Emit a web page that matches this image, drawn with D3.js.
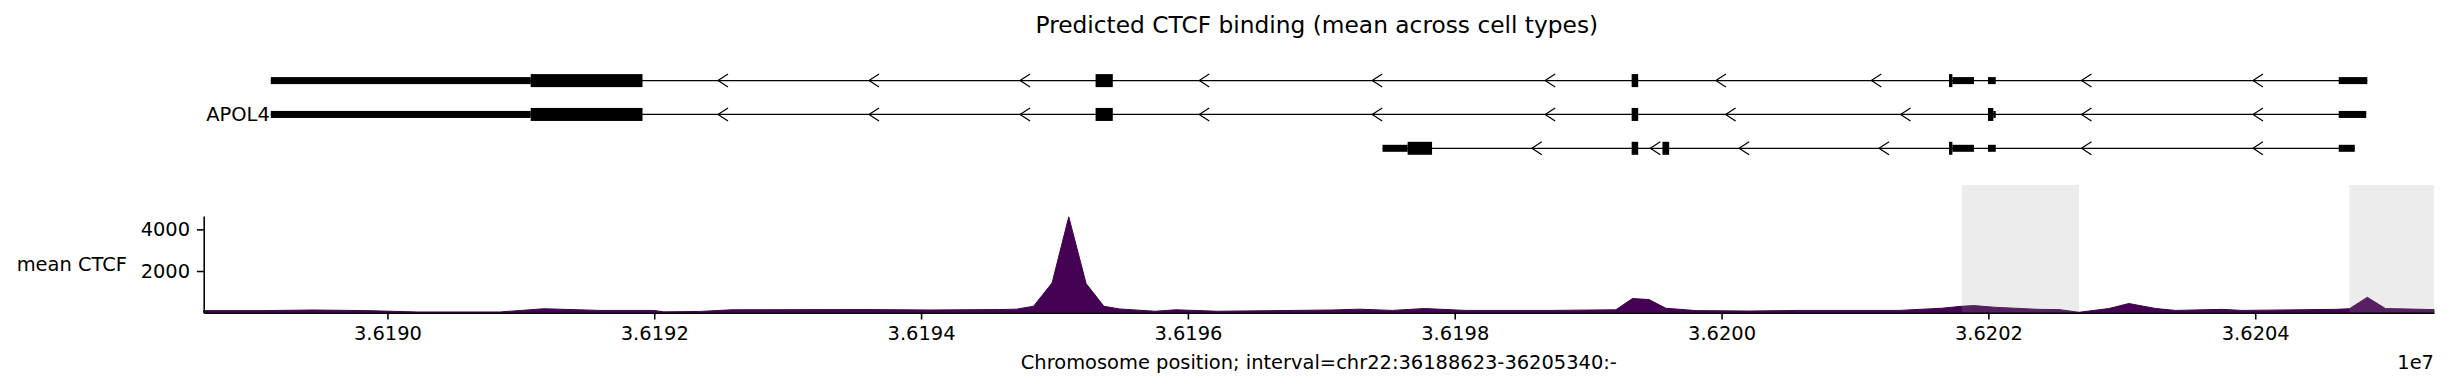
<!DOCTYPE html>
<html><head><meta charset="utf-8">
<script src="https://cdn.jsdelivr.net/npm/d3@7"></script>
<style>
body{margin:0;background:#fff}
svg{display:block}
text{font-family:"DejaVu Sans",sans-serif;fill:#000}
</style>
</head><body>
<svg id="chart" width="2450" height="386"></svg>
<script>
// ---------------- data ----------------
const regionStart = 36188623;
const regionEnd = 36205340;
const titleText = "Predicted CTCF binding (mean across cell types)";
const xLabelText = "Chromosome position; interval=chr22:36188623-36205340:-";
const yLabelText = "mean CTCF";
const geneName = "APOL4";
const offsetText = "1e7";

const xTickValues = [36190000, 36192000, 36194000, 36196000, 36198000, 36200000, 36202000, 36204000];
const xTickLabels = ["3.6190", "3.6192", "3.6194", "3.6196", "3.6198", "3.6200", "3.6202", "3.6204"];
const yTickValues = [2000, 4000];
const yTickLabels = ["2000", "4000"];
const yMax = 4640;

// mean CTCF signal (position, value)
const signalPos = [36188623, 36189060, 36189449, 36189839, 36190228, 36190843, 36191173, 36191593, 36191997, 36192072,
  36192341, 36192581, 36193600, 36194070, 36194587, 36194715, 36194843, 36194982, 36195107, 36195237,
  36195370, 36195487, 36195754, 36195911, 36196221, 36197083, 36197285, 36197532, 36197772, 36198086,
  36198708, 36199208, 36199332, 36199457, 36199582, 36199809, 36200206, 36200581, 36201330, 36201652,
  36201802, 36201892, 36202050, 36202379, 36202529, 36202679, 36202903, 36203053, 36203255, 36203405,
  36203750, 36203900, 36204604, 36204706, 36204840, 36204976, 36205340];
const signalVal = [100, 100, 130, 100, 35, 35, 190, 110, 110, 40,
  60, 140, 150, 130, 150, 170, 310, 1430, 4600, 1400,
  310, 180, 70, 140, 70, 130, 170, 110, 200, 110,
  110, 140, 680, 630, 215, 100, 80, 110, 110, 215,
  310, 340, 260, 160, 150, 20, 200, 440, 200, 110,
  160, 110, 160, 190, 740, 200, 150];

// shaded regions
const shadeStarts = [36201802, 36204706];
const shadeEnds = [36202679, 36205340];

// transcripts of APOL4 (rows), exons as [start, end, kind]
const transcriptIds = ["tx1", "tx2", "tx3"];
const transcriptSpans = [[36189126, 36204840], [36189126, 36204832], [36197459, 36204746]];
const tx1Exons = [[36189126, 36191074, "utr"], [36191074, 36191912, "cds"], [36195308, 36195437, "cds"],
  [36199326, 36199375, "cds"], [36201705, 36201730, "cds"], [36201730, 36201892, "utr"],
  [36201997, 36202055, "utr"], [36204626, 36204840, "utr"]];
const tx2Exons = [[36189126, 36191074, "utr"], [36191074, 36191912, "cds"], [36195308, 36195437, "cds"],
  [36199326, 36199375, "cds"], [36201997, 36202037, "cds"], [36202037, 36202055, "utr"],
  [36204626, 36204832, "utr"]];
const tx3Exons = [[36197459, 36197647, "utr"], [36197647, 36197830, "cds"], [36199326, 36199375, "cds"],
  [36199557, 36199607, "cds"], [36201705, 36201730, "cds"], [36201730, 36201892, "utr"],
  [36201997, 36202055, "utr"], [36204626, 36204746, "utr"]];
const exonSets = [tx1Exons, tx2Exons, tx3Exons];
const labelRow = 1;

// ---------------- drawing ----------------
const svg = d3.select("#chart");
const plotLeft = 203.7, plotRight = 2434;
const axisTop = 216, axisBottom = 312.7;

const x = d3.scaleLinear().domain([regionStart, regionEnd]).range([plotLeft, plotRight]);
const y = d3.scaleLinear().domain([0, yMax]).range([axisBottom, axisTop]);
const row = d3.scalePoint().domain(transcriptIds).range([80.6, 148.3]);

// title
svg.append("text").attr("x", (plotLeft + plotRight) / 2 - 2).attr("y", 32.5)
  .attr("text-anchor", "middle").style("font-size", "23.3px").text(titleText);

// gene track
const gTrack = svg.append("g");
const cdsH = 13, utrH = 7;
transcriptIds.forEach((id, i) => {
  const cy = row(id);
  const span = transcriptSpans[i];
  gTrack.append("line").attr("x1", x(span[0])).attr("x2", x(span[1]))
    .attr("y1", cy).attr("y2", cy).attr("stroke", "#000").attr("stroke-width", 1.3);
  const exons = exonSets[i].slice().sort((a, b) => a[0] - b[0]);
  // strand arrows in introns (minus strand)
  for (let k = 0; k < exons.length - 1; k++) {
    const a = x(exons[k][1]), b = x(exons[k + 1][0]);
    const L = b - a;
    if (L < 20) continue;
    const n = Math.max(1, Math.round(L / 150));
    for (let j = 0; j < n; j++) {
      const px = a + (j + 0.5) * L / n;
      gTrack.append("path")
        .attr("d", `M${px + 10},${cy - 6.5}L${px},${cy}L${px + 10},${cy + 6.5}`)
        .attr("fill", "none").attr("stroke", "#000").attr("stroke-width", 1.2);
    }
  }
  gTrack.selectAll(null).data(exonSets[i]).join("rect")
    .attr("x", d => x(d[0]))
    .attr("width", d => Math.max(1, x(d[1]) - x(d[0])))
    .attr("y", d => cy - (d[2] === "cds" ? cdsH : utrH) / 2)
    .attr("height", d => d[2] === "cds" ? cdsH : utrH)
    .attr("fill", "#000");
  if (i === labelRow) {
    gTrack.append("text").attr("x", x(span[0]) - 1).attr("y", cy).attr("dy", "0.36em")
      .attr("text-anchor", "end").style("font-size", "19.44px").text(geneName);
  }
});

// signal area
const sig = signalPos.map((p, i) => ({p, v: signalVal[i]}));
const area = d3.area().x(d => x(d.p)).y0(y(0)).y1(d => y(d.v));
svg.append("path").datum(sig).attr("d", area)
  .attr("fill", "#440154").attr("stroke", "#440154").attr("stroke-width", 1);

// shaded regions
svg.selectAll(".shade").data(shadeStarts.map((s, i) => [s, shadeEnds[i]])).join("rect")
  .attr("class", "shade")
  .attr("x", d => x(d[0])).attr("width", d => x(d[1]) - x(d[0]))
  .attr("y", 185).attr("height", axisBottom - 185)
  .attr("fill", "#a0a0a0").attr("fill-opacity", 0.2);

// axes
const xAxis = d3.axisBottom(x).tickValues(xTickValues)
  .tickFormat((d, i) => xTickLabels[i]).tickSize(6.8).tickPadding(6.8).tickSizeOuter(0);
const gx = svg.append("g").attr("transform", `translate(0,${axisBottom})`).call(xAxis);
gx.select(".domain").attr("stroke", "#000").attr("stroke-width", 1.56);
gx.selectAll(".tick line").attr("stroke", "#000").attr("stroke-width", 1.56);
gx.selectAll(".tick text").style("font-size", "19.44px").style("font-family", "DejaVu Sans").attr("fill", "#000");

const yAxis = d3.axisLeft(y).tickValues(yTickValues)
  .tickFormat((d, i) => yTickLabels[i]).tickSize(6.8).tickPadding(6.8).tickSizeOuter(0);
const gy = svg.append("g").attr("transform", `translate(${plotLeft},0)`).call(yAxis);
gy.select(".domain").attr("stroke", "#000").attr("stroke-width", 1.56);
gy.selectAll(".tick line").attr("stroke", "#000").attr("stroke-width", 1.56);
gy.selectAll(".tick text").style("font-size", "19.44px").style("font-family", "DejaVu Sans").attr("fill", "#000");

// labels
svg.append("text").attr("x", (plotLeft + plotRight) / 2).attr("y", 368.5)
  .attr("text-anchor", "middle").style("font-size", "19.44px").text(xLabelText);
svg.append("text").attr("x", plotRight).attr("y", 368.5)
  .attr("text-anchor", "end").style("font-size", "19.44px").text(offsetText);
svg.append("text").attr("x", 127).attr("y", (axisTop + axisBottom) / 2).attr("dy", "0.36em")
  .attr("text-anchor", "end").style("font-size", "19.44px").text(yLabelText);
</script>
</body></html>
